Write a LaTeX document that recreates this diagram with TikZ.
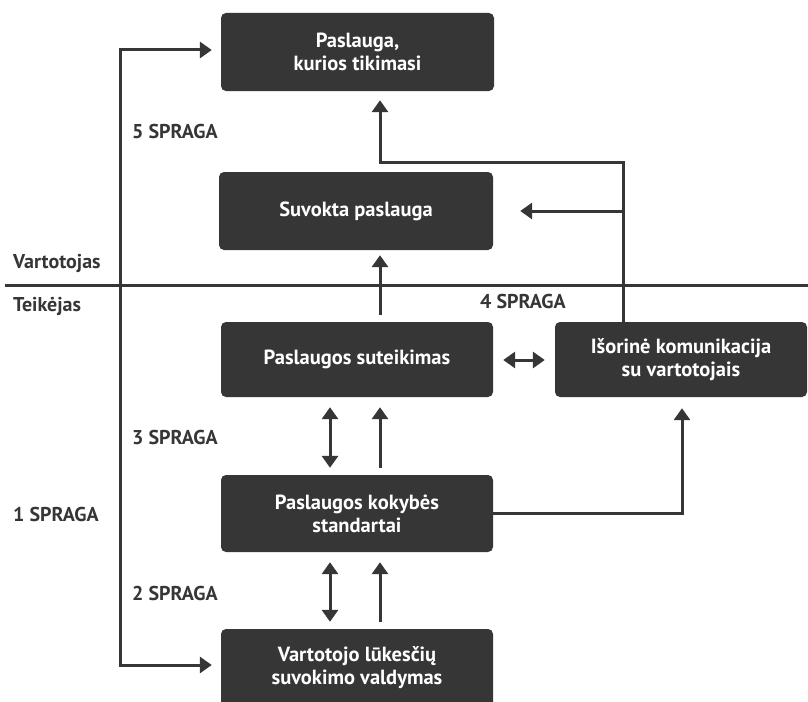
\documentclass[tikz,border=0pt]{standalone}
\usepackage{fontspec}
\setmainfont{PT Sans}[BoldFont={PT Sans Bold}]
\usetikzlibrary{arrows.meta,calc}
\definecolor{dk}{HTML}{363636}
\tikzset{
  box/.style={fill=dk, draw=none, rounded corners=5pt, text=white, font=\bfseries\fontsize{20.5}{23}\selectfont, align=center, inner sep=0pt, minimum width=272pt},
  lab/.style={anchor=west, text=dk, font=\bfseries\fontsize{20}{22}\selectfont, inner sep=0pt},
  conn/.style={draw=dk, line width=3pt},
  arr/.style={conn, -{Triangle[length=12pt,width=16pt]}},
  dbl/.style={conn, {Triangle[length=12pt,width=16pt]}-{Triangle[length=12pt,width=16pt]}}
}
\begin{document}
\begin{tikzpicture}[x=1pt,y=-1pt]
\useasboundingbox (0,0) rectangle (808,701);
\clip (0,0) rectangle (808,701);
\fill[white] (0,0) rectangle (808,701);

\node[box, minimum height=78pt, minimum width=273pt] (b1) at (357.5,52) {Paslauga,\\kurios tikimasi};
\node[box, minimum height=78pt, minimum width=274pt] (b2) at (356,211) {Suvokta paslauga};
\node[box, minimum height=75pt] (b3) at (357,359.5) {Paslaugos suteikimas};
\node[box, minimum height=75pt, minimum width=252pt] (b4) at (681,359.5) {Išorinė komunikacija\\su vartotojais};
\node[box, minimum height=77pt] (b5) at (357,513.5) {Paslaugos kokybės\\standartai};
\node[box, minimum height=78pt] (b6) at (357,668) {Vartotojo lūkesčių\\suvokimo valdymas};

\node[lab] (vart) at (13,263) {Vartotojas};
\node[lab] (teik) at (13,306) {Teikėjas};
\node[lab] (g5) at (132,131) {5 SPRAGA};
\node[lab] (g4) at (480,301) {4 SPRAGA};
\node[lab] (g3) at (132,437) {3 SPRAGA};
\node[lab] (g1) at (13,514) {1 SPRAGA};
\node[lab] (g2) at (132,593) {2 SPRAGA};

% separator
\coordinate (sepL) at (5,285);
\coordinate (sepR) at (808,285);
\draw[conn] (sepL) -- (sepR);

% gap 1 loop
\coordinate (a1) at ($(b1.west)+(-9,-2)$);
\coordinate (a2) at ($(b6.west)+(-9,-3)$);
\coordinate (l1) at (120,50);
\coordinate (l2) at (120,665);
\draw[conn, {Triangle[length=12pt,width=16pt]}-{Triangle[length=12pt,width=16pt]}] (a1) -- (l1 |- a1) -- (l2 |- a2) -- (a2);

% b3 -> b2
\coordinate (s32) at ($(b3.north)+(23,-7)$);
\draw[arr] (s32) -- ($(s32 |- b2.south)+(0,5)$);

% b4 -> b1, b2
\coordinate (k) at (623,162);
\draw[arr] (b4.north -| k) -- (k) -- (k -| s32) -- ($(s32 |- b1.south)+(0,9)$);
\coordinate (k2) at (623,211);
\draw[arr] (k2) -- ($(b2.east)+(27,0)$);

% b3 <-> b4
\draw[dbl] ($(b3.east)+(10,0.5)$) -- ($(b4.west)+(-10,0.5)$);

% b3 - b5
\draw[dbl] ($(b3.south)+(-27,10)$) -- ($(b5.north)+(-27,-7)$);
\draw[arr] ($(b5.north)+(23,-7)$) -- ($(b3.south)+(23,10)$);

% b5 -> b4
\coordinate (k3) at (682,513.5);
\draw[arr] (b5.east) -- (k3) -- ($(k3 |- b4.south)+(0,11)$);

% b5 - b6
\draw[dbl] ($(b5.south)+(-27,10)$) -- ($(b6.north)+(-27,-7)$);
\draw[arr] ($(b6.north)+(23,-7)$) -- ($(b5.south)+(23,10)$);
\end{tikzpicture}
\end{document}
